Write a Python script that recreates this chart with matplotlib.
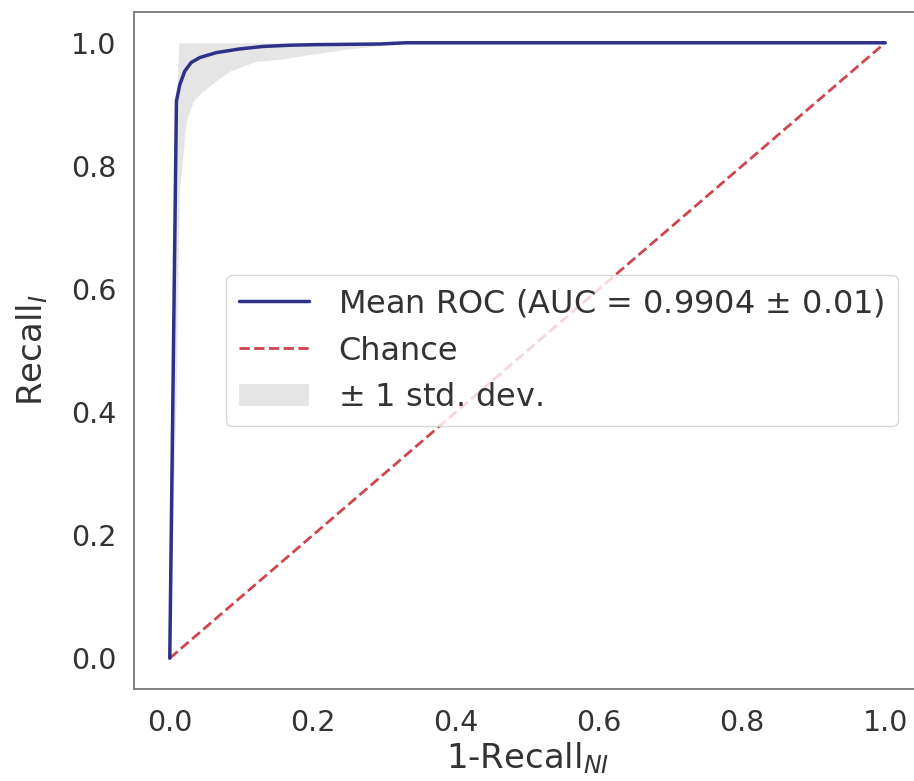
import numpy as np
import matplotlib
matplotlib.use("Agg")
import matplotlib.pyplot as plt
import seaborn as sns

sns.set_style("white")
plt.rcParams['font.family'] = ['DejaVu Sans']

# mean ROC
mean_fpr = [0, 0.0093, 0.014, 0.021, 0.030, 0.042, 0.065, 0.098, 0.130,
            0.168, 0.205, 0.294, 0.33, 1.0]
mean_tpr = [0, 0.905, 0.932, 0.954, 0.968, 0.976, 0.984, 0.990, 0.994,
            0.996, 0.997, 0.998, 1.0, 1.0]

# +/- 1 std band
band_fpr = [0, 0.0093, 0.0126, 0.014, 0.0186, 0.023, 0.033, 0.044, 0.061,
            0.084, 0.121, 0.154, 0.196, 0.25, 0.30, 0.33, 1.0]
tprs_lower = [0, 0.45, 0.70, 0.765, 0.819, 0.873, 0.905, 0.919, 0.935,
              0.954, 0.970, 0.973, 0.981, 0.990, 0.996, 1.0, 1.0]
tprs_upper = [0, 0.905, 1.0, 1.0, 1.0, 1.0, 1.0, 1.0, 1.0,
              1.0, 1.0, 1.0, 1.0, 1.0, 1.0, 1.0, 1.0]

mean_auc = 0.9904
std_auc = 0.01

fig = plt.figure(figsize=(9.14, 7.81), dpi=100)
ax = fig.add_axes([134 / 914, 92 / 781, 787 / 914, 677 / 781])

ax.plot([0, 1], [0, 1], linestyle='--', lw=2, color='#c9323a', label='Chance', alpha=.9)
ax.fill_between(band_fpr, tprs_lower, tprs_upper, color='grey', alpha=.2,
                lw=0, label=r'$\pm$ 1 std. dev.')
ax.plot(mean_fpr, mean_tpr, color='#2e3188', lw=2.5,
        label=r'Mean ROC (AUC = %0.4f $\pm$ %0.2f)' % (mean_auc, std_auc))

ax.set_xlim(-0.05, 1.05)
ax.set_ylim(-0.05, 1.05)
ax.set_xticks([0, 0.2, 0.4, 0.6, 0.8, 1.0])
ax.set_yticks([0, 0.2, 0.4, 0.6, 0.8, 1.0])
ax.tick_params(labelsize=20.5, colors='0.2')
ax.tick_params(axis='x', pad=11)
ax.tick_params(axis='y', pad=9)
ax.set_xlabel(r'1-Recall$_{NI}$', fontsize=24.5, color='0.2', labelpad=2)
ax.set_ylabel(r'Recall$_{I}$', fontsize=24.5, color='0.2', labelpad=15)
for s in ax.spines.values():
    s.set_color('0.5')
    s.set_linewidth(1.4)

handles, labels = ax.get_legend_handles_labels()
order = [2, 0, 1]
ax.legend([handles[i] for i in order], [labels[i] for i in order],
          loc='center left', bbox_to_anchor=(0.097, 0.5), fontsize=23,
          labelcolor='0.2', handlelength=2.2, handletextpad=0.9)

fig.savefig('out.png', dpi=100)
